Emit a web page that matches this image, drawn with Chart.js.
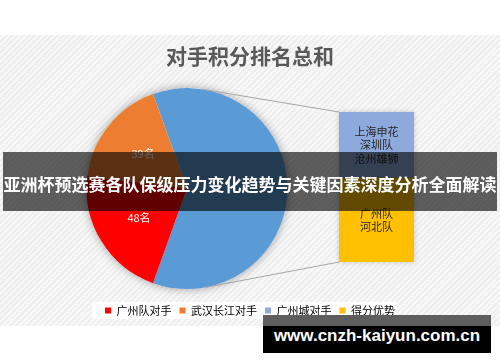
<!DOCTYPE html>
<html>
<head>
<meta charset="utf-8">
<script src="https://cdn.jsdelivr.net/npm/chart.js@4.4.1/dist/chart.umd.min.js"></script>
<style>
  html, body { margin: 0; padding: 0; background: #fff; width: 500px; height: 362px; overflow: hidden; }
  #panel {
    position: absolute; left: 0; top: 35px; width: 500px; height: 291px;
    background: repeating-linear-gradient(135deg, #eeeeee 0px, #eeeeee 2px, #f8f8f8 2px, #f8f8f8 4px);
  }
  #pieChart { position: absolute; left: 0; top: 35px; }
  #barWrap {
    position: absolute; left: 339px; top: 112px; width: 75px; height: 150px;
    box-shadow: 0 0 5px rgba(0, 0, 0, 0.2);
  }
  #band {
    position: absolute; left: 3px; top: 152px; width: 494px; height: 59px;
    background: rgba(0, 0, 0, 0.62); color: #fff; text-align: center;
    font: bold 17px/64px "Noto Sans CJK SC", sans-serif; white-space: nowrap;
  }
  #mark {
    position: absolute; left: 263px; top: 315px; width: 228px; height: 27px; padding-top: 11px;
    background: linear-gradient(#5e5e5e 0px, #5e5e5e 11px, #000 11px);
    color: #fff; text-align: center; font: bold 17px/20px "Liberation Sans", Arial, sans-serif;
  }
</style>
</head>
<body>
<div id="panel"></div>
<canvas id="pieChart" width="500" height="291"></canvas>
<div id="barWrap"><canvas id="barChart" width="75" height="150"></canvas></div>
<div id="band">亚洲杯预选赛各队保级压力变化趋势与关键因素深度分析全面解读</div>
<div id="mark">www.cnzh-kaiyun.com.cn</div>
<script>
const categories = ['广州队对手', '武汉长江对手', '广州城对手', '得分优势'];
const values = [48, 39, 60, 76];
const colors = ['#FF0000', '#ED7D31', '#8EA9DB', '#FFC000'];
const otherColor = '#5B9BD5';
const barTeams = [['上海申花', '深圳队', '沧州雄狮'], ['广州队', '河北队']];
const unit = '名';

const cjk = '"Noto Sans CJK SC", sans-serif';

// the last two points go into the bar, the pie gets their sum
const otherSum = values[2] + values[3];
const pieValues = [otherSum, values[0], values[1]];
const pieTotal = pieValues.reduce((a, b) => a + b, 0);

// Bar (stacked), bottom = 得分优势, top = 广州城对手
const barLabels = function (chart) {
    return {
        id: 'barLabels',
        afterDatasetsDraw(chart) {
            const ctx = chart.ctx;
            ctx.save();
            ctx.fillStyle = '#262626';
            ctx.font = '11px ' + cjk;
            ctx.textAlign = 'center';
            ctx.textBaseline = 'middle';
            [1, 0].forEach(function (di, k) {
                const el = chart.getDatasetMeta(di).data[0];
                const lines = barTeams[k];
                const mid = (el.y + el.base) / 2;
                lines.forEach(function (t, j) {
                    ctx.fillText(t, el.x, mid + (j - (lines.length - 1) / 2) * 13.5);
                });
            });
            ctx.restore();
        }
    };
};

const barChart = new Chart(document.getElementById('barChart').getContext('2d'), {
    type: 'bar',
    data: {
        labels: [''],
        datasets: [
            { label: categories[3], data: [values[3]], backgroundColor: colors[3], barPercentage: 1, categoryPercentage: 1 },
            { label: categories[2], data: [values[2]], backgroundColor: colors[2], barPercentage: 1, categoryPercentage: 1 }
        ]
    },
    options: {
        responsive: false,
        animation: false,
        layout: { padding: 0 },
        plugins: { legend: { display: false }, tooltip: { enabled: false } },
        scales: {
            x: { stacked: true, display: false },
            y: { stacked: true, display: false, min: 0, max: otherSum }
        }
    },
    plugins: [barLabels()]
});

// Pie chart helpers
const shiftPie = {
    id: 'shiftPie',
    afterLayout(chart) {
        chart.chartArea.left -= 63;
        chart.chartArea.right -= 63;
    }
};

const pieShadow = {
    id: 'pieShadow',
    beforeDatasetsDraw(chart) {
        const arc = chart.getDatasetMeta(0).data[0];
        const ctx = chart.ctx;
        ctx.save();
        ctx.shadowColor = 'rgba(0,0,0,0.35)';
        ctx.shadowBlur = 10;
        ctx.beginPath();
        ctx.arc(arc.x, arc.y, arc.outerRadius, 0, Math.PI * 2);
        ctx.fillStyle = '#fff';
        ctx.fill();
        ctx.restore();
    }
};

const legendBack = {
    id: 'legendBack',
    beforeDraw(chart) {
        const boxes = chart.legend.legendHitBoxes;
        if (!boxes || !boxes.length) return;
        const l = boxes[0].left, last = boxes[boxes.length - 1];
        const cy = boxes[0].top + boxes[0].height / 2;
        chart.ctx.save();
        chart.ctx.fillStyle = 'rgba(255,255,255,0.85)';
        chart.ctx.fillRect(l - 13, cy - 8.5, last.left + last.width - l + 15, 17);
        chart.ctx.restore();
    }
};

const pieExtras = {
    id: 'pieExtras',
    afterDatasetsDraw(chart) {
        const ctx = chart.ctx;
        const meta = chart.getDatasetMeta(0);
        // slice labels
        ctx.save();
        ctx.fillStyle = '#fff';
        ctx.font = '11px ' + cjk;
        ctx.textAlign = 'center';
        ctx.textBaseline = 'middle';
        [1, 2].forEach(function (i) {
            const a = meta.data[i];
            const mid = (a.startAngle + a.endAngle) / 2;
            ctx.fillText(pieValues[i] + unit, a.x + Math.cos(mid) * a.outerRadius * 0.56,
                a.y + Math.sin(mid) * a.outerRadius * 0.56);
        });
        // connector lines to the bar
        const wrap = document.getElementById('barWrap');
        const cv = chart.canvas;
        const dx = wrap.offsetLeft - cv.offsetLeft, dy = wrap.offsetTop - cv.offsetTop;
        const topEl = barChart.getDatasetMeta(1).data[0];
        const botEl = barChart.getDatasetMeta(0).data[0];
        const pts = [
            [topEl.x - topEl.width / 2 + dx, topEl.y + dy, -1],
            [botEl.x - botEl.width / 2 + dx, botEl.base + dy, 1]
        ];
        const c = meta.data[0];
        ctx.strokeStyle = '#a6a6a6';
        ctx.lineWidth = 1;
        pts.forEach(function (p) {
            const vx = p[0] - c.x, vy = p[1] - c.y;
            const d = Math.sqrt(vx * vx + vy * vy);
            const ang = Math.atan2(vy, vx) + p[2] * Math.acos(c.outerRadius / d);
            ctx.beginPath();
            ctx.moveTo(c.x + Math.cos(ang) * c.outerRadius, c.y + Math.sin(ang) * c.outerRadius);
            ctx.lineTo(p[0], p[1]);
            ctx.stroke();
        });
        ctx.restore();
    }
};

const pieChart = new Chart(document.getElementById('pieChart').getContext('2d'), {
    type: 'pie',
    data: {
        labels: ['其他', categories[0], categories[1]],
        datasets: [{
            data: pieValues,
            backgroundColor: [otherColor, colors[0], colors[1]],
            borderWidth: 0,
            radius: 100.5,
            clip: false
        }]
    },
    options: {
        responsive: false,
        animation: false,
        rotation: 90 - otherSum / pieTotal * 180,
        layout: { padding: 0 },
        plugins: {
            tooltip: { enabled: false },
            title: {
                display: true,
                text: '对手积分排名总和',
                color: '#595959',
                font: { family: cjk, size: 21, weight: 'bold' },
                padding: { top: 8, bottom: 12 }
            },
            legend: {
                position: 'bottom',
                onClick: null,
                labels: {
                    boxWidth: 6,
                    boxHeight: 6,
                    padding: 8,
                    color: '#595959',
                    font: { family: cjk, size: 11 },
                    generateLabels: function () {
                        return categories.map(function (name, i) {
                            return { text: name, fillStyle: colors[i], strokeStyle: colors[i], lineWidth: 0, hidden: false, index: i };
                        });
                    }
                }
            }
        }
    },
    plugins: [shiftPie, pieShadow, legendBack, pieExtras]
});
</script>
</body>
</html>
